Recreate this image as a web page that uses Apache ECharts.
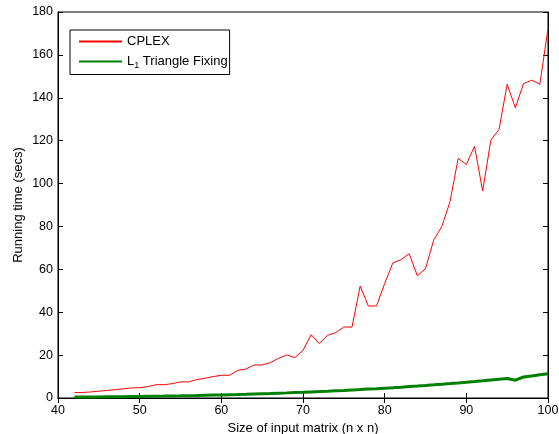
<!DOCTYPE html>
<html>
<head>
<meta charset="utf-8">
<script src="https://cdn.jsdelivr.net/npm/echarts@6/dist/echarts.min.js"></script>
<style>
html, body { margin: 0; padding: 0; background: #fff; }
#chart { width: 559px; height: 434px; }
</style>
</head>
<body>
<div id="chart"></div>
<script>
// matrix sizes n = 42 .. 100
var sizes = [42, 43, 44, 45, 46, 47, 48, 49, 50, 51, 52, 53, 54, 55, 56, 57, 58, 59, 60, 61,
    62, 63, 64, 65, 66, 67, 68, 69, 70, 71, 72, 73, 74, 75, 76, 77, 78, 79, 80, 81,
    82, 83, 84, 85, 86, 87, 88, 89, 90, 91, 92, 93, 94, 95, 96, 97, 98, 99, 100];

var cplex = [2.5, 2.6, 2.8, 3.2, 3.5, 3.9, 4.3, 4.7, 4.8, 5.3, 6.2, 6.2, 6.7, 7.5, 7.5, 8.6, 9.2, 10.0, 10.6, 10.6,
    12.9, 13.5, 15.4, 15.4, 16.5, 18.5, 20.1, 18.8, 22.2, 29.5, 25.4, 29.2, 30.5, 33.1, 33.1, 52.2, 42.9, 42.9, 53.4, 63.0,
    64.5, 67.3, 57.0, 60.3, 73.6, 80.0, 91.5, 111.7, 108.9, 117.4, 96.5, 120.2, 125.2, 146.3, 135.3, 146.6, 148.2, 146.3, 172.3];

var triFix = [0.5, 0.5, 0.5, 0.5, 0.55, 0.6, 0.62, 0.66, 0.7, 0.76, 0.82, 0.88, 0.95, 1.02, 1.1, 1.18, 1.27, 1.36, 1.45, 1.55,
    1.65, 1.76, 1.88, 2.0, 2.12, 2.26, 2.39, 2.54, 2.69, 2.85, 3.01, 3.18, 3.36, 3.54, 3.74, 3.94, 4.15, 4.36, 4.59, 4.82,
    5.06, 5.32, 5.58, 5.85, 6.13, 6.42, 6.72, 7.03, 7.35, 7.68, 8.02, 8.38, 8.74, 9.12, 8.3, 9.8, 10.3, 10.8, 11.3];

function pairs(xs, ys) {
    var out = [];
    for (var i = 0; i < xs.length; i++) out.push([xs[i], ys[i]]);
    return out;
}

var font = 'Liberation Sans, Arial, sans-serif';
var myChart = echarts.init(document.getElementById('chart'));

var tickStyle = { inside: true, length: 5, lineStyle: { color: '#000' } };

var option = {
    animation: false,
    textStyle: { fontFamily: font },
    grid: {
        left: 58, right: 11, top: 12, bottom: 36,
        outerBoundsMode: 'none', containLabel: false,
        show: true, borderColor: '#000', borderWidth: 1
    },
    legend: {
        orient: 'vertical',
        left: 70, top: 30,
        backgroundColor: '#fff',
        borderColor: '#000', borderWidth: 1, borderRadius: 0,
        padding: [5, 2, 4, 8],
        itemWidth: 43, itemHeight: 14, itemGap: 7,
        itemStyle: { opacity: 0 },
        textStyle: {
            color: '#000', fontSize: 13, fontFamily: font,
            rich: {
                n: { fontSize: 13, color: '#000', fontFamily: font },
                s: { fontSize: 9, color: '#000', fontFamily: font, verticalAlign: 'bottom', padding: [9, 0, 0, 0] }
            }
        },
        formatter: function (name) {
            if (name === 'CPLEX') return '{n|CPLEX}';
            return '{n|L}{s|1}{n| Triangle Fixing}';
        },
        data: ['CPLEX', 'L1 Triangle Fixing']
    },
    xAxis: [{
        type: 'value', min: 40, max: 100, interval: 10,
        name: 'Size of input matrix (n x n)', nameLocation: 'middle', nameGap: 21,
        nameTextStyle: { color: '#000', fontSize: 13 },
        axisLine: { lineStyle: { color: '#000' } },
        axisTick: tickStyle,
        axisLabel: { color: '#000', fontSize: 12.5, margin: 6 },
        splitLine: { show: false }
    }, {
        type: 'value', position: 'top', min: 40, max: 100, interval: 10,
        axisLine: { lineStyle: { color: '#000' } },
        axisTick: tickStyle,
        axisLabel: { show: false },
        splitLine: { show: false }
    }],
    yAxis: [{
        type: 'value', min: 0, max: 180, interval: 20,
        name: 'Running time (secs)', nameLocation: 'middle', nameGap: 33,
        nameMoveOverlap: false,
        nameTextStyle: { color: '#000', fontSize: 13 },
        axisLine: { show: true, lineStyle: { color: '#000' } },
        axisTick: tickStyle,
        axisLabel: { color: '#000', fontSize: 12.5, margin: 5 },
        splitLine: { show: false }
    }, {
        type: 'value', position: 'right', min: 0, max: 180, interval: 20,
        axisLine: { show: true, lineStyle: { color: '#000' } },
        axisTick: tickStyle,
        axisLabel: { show: false },
        splitLine: { show: false }
    }],
    series: [{
        name: 'CPLEX', type: 'line',
        symbol: 'none',
        lineStyle: { color: '#ff0000', width: 1 },
        itemStyle: { color: '#ff0000' },
        data: pairs(sizes, cplex)
    }, {
        name: 'L1 Triangle Fixing', type: 'line',
        symbol: 'none',
        lineStyle: { color: '#008000', width: 3 },
        itemStyle: { color: '#008000' },
        data: pairs(sizes, triFix)
    }]
};

myChart.setOption(option, true);
</script>
</body>
</html>
